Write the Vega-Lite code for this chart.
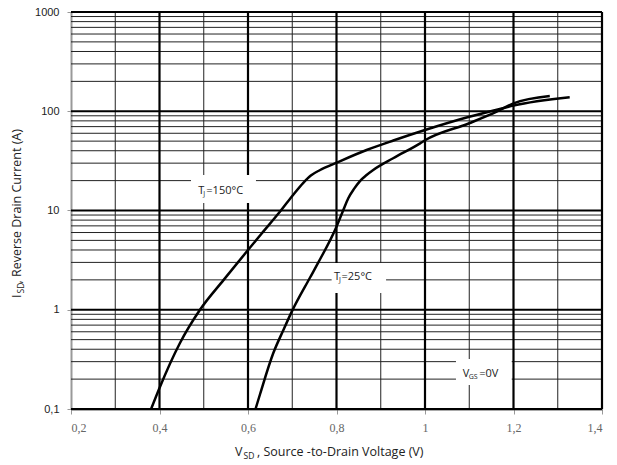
{
  "$schema": "https://vega.github.io/schema/vega-lite/v6.json",
  "width": 531,
  "height": 397,
  "autosize": {"type": "none"},
  "padding": {"left": 71, "top": 12, "right": 15, "bottom": 56},
  "background": "white",
  "config": {"view": {"stroke": null}},
  "data": {"values": [{"one": 1}]},
  "datasets": {
    "vminor": [{"v": 0.3}, {"v": 0.5}, {"v": 0.7}, {"v": 0.9}, {"v": 1.1}, {"v": 1.3}],
    "vmajor": [{"v": 0.4}, {"v": 0.6}, {"v": 0.8}, {"v": 1.0}, {"v": 1.2}, {"v": 1.4}],
    "hminor": [
      {"i": 0.2}, {"i": 0.3}, {"i": 0.4}, {"i": 0.5}, {"i": 0.6}, {"i": 0.7}, {"i": 0.8}, {"i": 0.9},
      {"i": 2}, {"i": 3}, {"i": 4}, {"i": 5}, {"i": 6}, {"i": 7}, {"i": 8}, {"i": 9},
      {"i": 20}, {"i": 30}, {"i": 40}, {"i": 50}, {"i": 60}, {"i": 70}, {"i": 80}, {"i": 90},
      {"i": 200}, {"i": 300}, {"i": 400}, {"i": 500}, {"i": 600}, {"i": 700}, {"i": 800}, {"i": 900}
    ],
    "hmajor": [{"i": 0.1}, {"i": 1}, {"i": 10}, {"i": 100}, {"i": 1000}],
    "curves": [
      {"tj": "150", "v": 0.381, "i": 0.1},
      {"tj": "150", "v": 0.4, "i": 0.163},
      {"tj": "150", "v": 0.446, "i": 0.46},
      {"tj": "150", "v": 0.4915, "i": 1.0},
      {"tj": "150", "v": 0.545, "i": 2.0},
      {"tj": "150", "v": 0.6, "i": 4.0},
      {"tj": "150", "v": 0.63, "i": 5.8},
      {"tj": "150", "v": 0.672, "i": 9.7},
      {"tj": "150", "v": 0.7, "i": 14.0},
      {"tj": "150", "v": 0.725, "i": 19.0},
      {"tj": "150", "v": 0.742, "i": 22.5},
      {"tj": "150", "v": 0.763, "i": 25.6},
      {"tj": "150", "v": 0.8, "i": 30.3},
      {"tj": "150", "v": 0.868, "i": 40.7},
      {"tj": "150", "v": 0.93, "i": 51},
      {"tj": "150", "v": 1.0, "i": 64.7},
      {"tj": "150", "v": 1.1, "i": 88},
      {"tj": "150", "v": 1.16, "i": 103},
      {"tj": "150", "v": 1.2, "i": 114},
      {"tj": "150", "v": 1.327, "i": 138},
      {"tj": "25", "v": 0.617, "i": 0.1},
      {"tj": "25", "v": 0.627, "i": 0.14},
      {"tj": "25", "v": 0.657, "i": 0.364},
      {"tj": "25", "v": 0.68, "i": 0.625},
      {"tj": "25", "v": 0.7, "i": 0.98},
      {"tj": "25", "v": 0.74, "i": 2.1},
      {"tj": "25", "v": 0.759, "i": 3.0},
      {"tj": "25", "v": 0.8, "i": 6.87},
      {"tj": "25", "v": 0.815, "i": 10},
      {"tj": "25", "v": 0.8266, "i": 13.3},
      {"tj": "25", "v": 0.84, "i": 16.6},
      {"tj": "25", "v": 0.853, "i": 19.8},
      {"tj": "25", "v": 0.868, "i": 22.8},
      {"tj": "25", "v": 0.883, "i": 25.6},
      {"tj": "25", "v": 0.928, "i": 33.6},
      {"tj": "25", "v": 0.989, "i": 47.5},
      {"tj": "25", "v": 1.0, "i": 51},
      {"tj": "25", "v": 1.1, "i": 75.7},
      {"tj": "25", "v": 1.162, "i": 99},
      {"tj": "25", "v": 1.2, "i": 120},
      {"tj": "25", "v": 1.282, "i": 142.6}
    ]
  },
  "layer": [
    {
      "data": {"name": "hminor"},
      "mark": {"type": "rule", "color": "#222", "strokeWidth": 1},
      "encoding": {"y": {"field": "i", "type": "quantitative", "title": null, "scale": {"type": "log", "domain": [0.1, 1000], "nice": false},
          "axis": {"title": null, "grid": false, "values": [0.1, 1, 10, 100, 1000],
            "labelExpr": "replace(format(datum.value, '~g'), '.', ',')",
            "labelFont": "Liberation Sans", "labelFontSize": 11, "labelColor": "#222",
            "labelPadding": 8, "tickSize": 4, "tickColor": "#999", "domainColor": "#999", "domainWidth": 2}}}
    },
    {
      "data": {"name": "vminor"},
      "mark": {"type": "rule", "color": "#222", "strokeWidth": 1},
      "encoding": {"x": {"field": "v", "type": "quantitative", "title": null, "scale": {"domain": [0.2, 1.4], "nice": false, "zero": false},
          "axis": {"title": null, "grid": false, "values": [0.2, 0.4, 0.6, 0.8, 1.0, 1.2, 1.4],
            "labelExpr": "replace(format(datum.value, '~g'), '.', ',')",
            "labelFont": "Liberation Serif", "labelFontSize": 12, "labelColor": "#666",
            "labelPadding": 8, "tickSize": 5, "tickColor": "#999", "domainColor": "#555", "domainWidth": 2}}}
    },
    {
      "data": {"name": "hmajor"},
      "mark": {"type": "rule", "color": "#000", "strokeWidth": 2.2},
      "encoding": {"y": {"field": "i", "type": "quantitative", "title": null}}
    },
    {
      "data": {"name": "vmajor"},
      "mark": {"type": "rule", "color": "#000", "strokeWidth": 2.2},
      "encoding": {"x": {"field": "v", "type": "quantitative", "title": null}}
    },
    {"mark": {"type": "rect", "color": "white"},
      "encoding": {"x": {"datum": 0.4712}, "x2": {"datum": 0.618}, "y": {"datum": 22.8}, "y2": {"datum": 11.9}}},
    {"mark": {"type": "rect", "color": "white"},
      "encoding": {"x": {"datum": 0.789}, "x2": {"datum": 0.912}, "y": {"datum": 2.96}, "y2": {"datum": 1.475}}},
    {"mark": {"type": "rect", "color": "white"},
      "encoding": {"x": {"datum": 1.07}, "x2": {"datum": 1.196}, "y": {"datum": 0.319}, "y2": {"datum": 0.1746}}},
    {
      "data": {"name": "curves"},
      "mark": {"type": "line", "color": "black", "strokeWidth": 2.5, "interpolate": "monotone"},
      "encoding": {
        "x": {"field": "v", "type": "quantitative", "title": null},
        "y": {"field": "i", "type": "quantitative", "title": null},
        "detail": {"field": "tj"},
        "order": {"field": "v", "type": "quantitative"}
      }
    },
    {"mark": {"type": "text", "text": "T", "font": "Open Sans", "fontSize": 11, "align": "left", "baseline": "middle", "color": "#222"},
      "encoding": {"x": {"datum": 0.4877}, "y": {"datum": 15.8}}},
    {"mark": {"type": "text", "text": "J", "font": "Open Sans", "fontSize": 7, "align": "left", "baseline": "middle", "dx": 5, "dy": 3, "color": "#222"},
      "encoding": {"x": {"datum": 0.4877}, "y": {"datum": 15.8}}},
    {"mark": {"type": "text", "text": "=150°C", "font": "Open Sans", "fontSize": 11, "align": "left", "baseline": "middle", "dx": 8, "color": "#222"},
      "encoding": {"x": {"datum": 0.4877}, "y": {"datum": 15.8}}},
    {"mark": {"type": "text", "text": "T", "font": "Open Sans", "fontSize": 11, "align": "left", "baseline": "middle", "color": "#222"},
      "encoding": {"x": {"datum": 0.7944}, "y": {"datum": 2.16}}},
    {"mark": {"type": "text", "text": "J", "font": "Open Sans", "fontSize": 7, "align": "left", "baseline": "middle", "dx": 5, "dy": 3, "color": "#222"},
      "encoding": {"x": {"datum": 0.7944}, "y": {"datum": 2.16}}},
    {"mark": {"type": "text", "text": "=25°C", "font": "Open Sans", "fontSize": 11, "align": "left", "baseline": "middle", "dx": 7.5, "color": "#222"},
      "encoding": {"x": {"datum": 0.7944}, "y": {"datum": 2.16}}},
    {"mark": {"type": "text", "text": "V", "font": "Open Sans", "fontSize": 11, "align": "left", "baseline": "middle", "color": "#222"},
      "encoding": {"x": {"datum": 1.0852}, "y": {"datum": 0.225}}},
    {"mark": {"type": "text", "text": "GS", "font": "Open Sans", "fontSize": 7, "align": "left", "baseline": "middle", "dx": 6, "dy": 3, "color": "#222"},
      "encoding": {"x": {"datum": 1.0852}, "y": {"datum": 0.225}}},
    {"mark": {"type": "text", "text": "=0V", "font": "Open Sans", "fontSize": 11, "align": "left", "baseline": "middle", "dx": 16.5, "color": "#222"},
      "encoding": {"x": {"datum": 1.0852}, "y": {"datum": 0.225}}},
    {"mark": {"type": "text", "text": "V", "font": "Open Sans", "fontSize": 12.5, "align": "left", "baseline": "middle", "dy": 43, "color": "#222"},
      "encoding": {"x": {"datum": 0.5706}, "y": {"datum": 0.1}}},
    {"mark": {"type": "text", "text": "SD", "font": "Open Sans", "fontSize": 8.5, "align": "left", "baseline": "middle", "dx": 8.5, "dy": 46.5, "color": "#222"},
      "encoding": {"x": {"datum": 0.5706}, "y": {"datum": 0.1}}},
    {"mark": {"type": "text", "text": ", Source -to-Drain Voltage (V)", "font": "Open Sans", "fontSize": 12.5, "align": "left", "baseline": "middle", "dx": 22, "dy": 43, "color": "#222"},
      "encoding": {"x": {"datum": 0.5706}, "y": {"datum": 0.1}}},
    {"mark": {"type": "text", "text": "I", "font": "Open Sans", "fontSize": 12.5, "align": "left", "baseline": "middle", "angle": 270, "dy": -54, "color": "#222"},
      "encoding": {"x": {"datum": 0.2}, "y": {"datum": 1.313}}},
    {"mark": {"type": "text", "text": "SD", "font": "Open Sans", "fontSize": 8.5, "align": "left", "baseline": "middle", "angle": 270, "dx": 4.5, "dy": -50.5, "color": "#222"},
      "encoding": {"x": {"datum": 0.2}, "y": {"datum": 1.313}}},
    {"mark": {"type": "text", "text": " , Reverse Drain Current (A)", "font": "Open Sans", "fontSize": 12.5, "align": "left", "baseline": "middle", "angle": 270, "dx": 14.5, "dy": -54, "color": "#222"},
      "encoding": {"x": {"datum": 0.2}, "y": {"datum": 1.313}}}
  ]
}
